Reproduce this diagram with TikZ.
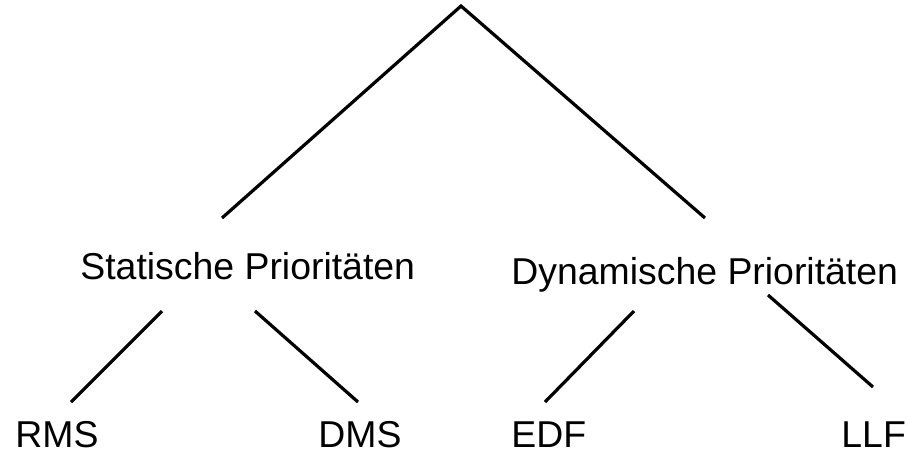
\documentclass[tikz,border=0pt]{standalone}
\usepackage{fontspec}
\setmainfont{Liberation Sans}
\usepackage{tikz}
\usetikzlibrary{positioning}

\begin{document}
\begin{tikzpicture}[x=0.5pt, y=-0.5pt]
		\tikzstyle{txt}=[anchor=base west, inner sep=0pt, font=\fontsize{18.7}{22}\selectfont]
		\tikzstyle{connect}=[line width=1.6pt, line cap=butt]
		\useasboundingbox (0,0) rectangle (909,452);
		% labels
		\node[txt] (stat) at (80,279) {Statische Prioritäten};
		\node[txt] (dyn) at (511,284) {Dynamische Prioritäten};
		\node[txt] (rms) at (15,447) {RMS};
		\node[txt] (dms) at (318,447) {DMS};
		\node[txt] (edf) at (511,447) {EDF};
		\node[txt] (llf) at (841,447) {LLF};
		% line ends
		\coordinate (root) at (461,6);
		\coordinate (stat_top) at (222,218);
		\coordinate (dyn_top) at (705,218);
		\coordinate (stat_l) at (162,311);
		\coordinate (stat_r) at (255,311);
		\coordinate (dyn_l) at (634,311);
		\coordinate (dyn_r) at (768,295);
		\coordinate (rms_top) at (71,402);
		\coordinate (dms_top) at (358,402);
		\coordinate (edf_top) at (545,402);
		\coordinate (llf_top) at (873,387);
		\draw[connect] (stat_top) -- (root) -- (dyn_top);
		\path
		(stat_l) edge [connect] (rms_top)
		(stat_r) edge [connect] (dms_top)
		(dyn_l) edge [connect] (edf_top)
		(dyn_r) edge [connect] (llf_top)
		;
	\end{tikzpicture}
\end{document}
